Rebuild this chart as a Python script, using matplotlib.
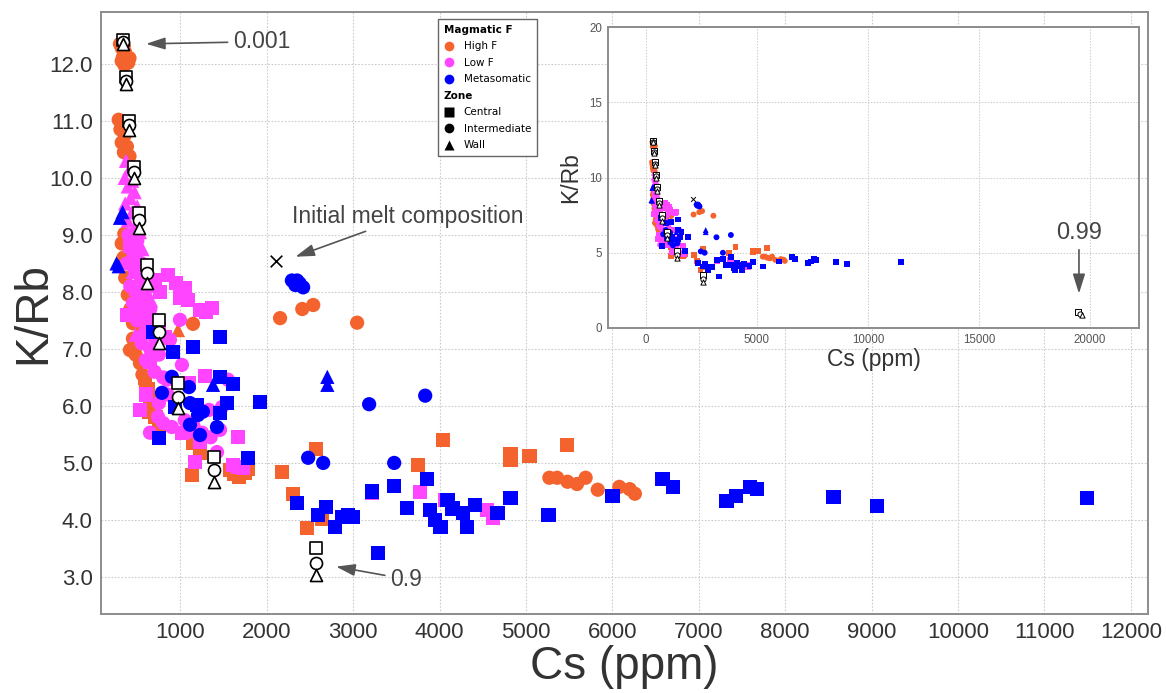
import matplotlib
matplotlib.use("Agg")
import matplotlib.pyplot as plt
from matplotlib.lines import Line2D
from matplotlib.ticker import FormatStrFormatter

plt.rcParams['font.family'] = ['Liberation Sans', 'DejaVu Sans']

# ---- data: Cs (ppm) vs K/Rb ----
# High F (orange)
hf_circ_x = [300, 320, 345, 360, 335, 375, 395, 350, 410, 320, 285, 330, 305, 355, 320, 380, 345, 410,
             350, 320, 340, 360, 390, 420, 450, 531, 612, 450, 415, 480, 531, 560, 600, 650, 700,
             1145, 2153, 2410, 2537, 3045, 5270, 5360, 5480, 5590, 5690, 5830, 6080, 6200, 6260]
hf_circ_y = [12.35, 12.28, 12.32, 12.2, 12.12, 12.08, 12.02, 11.98, 12.1, 12.05, 11.02, 10.95, 10.85, 10.75,
             10.62, 10.55, 10.45, 10.38, 9.02, 8.85, 8.6, 8.25, 7.95, 7.7, 7.45, 7.39, 7.68, 7.18, 6.98,
             6.9, 6.75, 6.55, 6.35, 6.15, 6.0, 7.44, 7.54, 7.7, 7.77, 7.46, 4.74, 4.74, 4.67, 4.63, 4.74,
             4.53, 4.58, 4.54, 4.46]
hf_sq_x = [590, 620, 650, 680, 710, 750, 640, 1145, 1226, 1133, 1573, 1620, 1680, 1740, 1785, 2176, 2304,
           2466, 2640, 2570, 3752, 4042, 4820, 4820, 5040, 5470]
hf_sq_y = [6.5, 6.3, 6.1, 5.95, 5.8, 5.65, 5.9, 5.35, 5.18, 4.79, 4.88, 4.8, 4.76, 4.82, 4.9, 4.84, 4.46,
           3.86, 4.02, 5.25, 4.96, 5.4, 5.15, 5.05, 5.12, 5.32]
hf_tri_x = [971, 560, 480]
hf_tri_y = [7.33, 8.0, 7.1]

# Low F (magenta)
lf_circ_x = [400, 450, 500, 380, 470, 550, 420, 500, 600, 450, 550, 650, 500, 600, 700, 550, 650, 750,
             600, 700, 800, 850, 750, 994, 878, 1017, 844, 1550, 1330, 1480, 740, 800, 900, 1050, 1150,
             1250, 647, 1423, 1458, 1350, 1100]
lf_circ_y = [9.0, 8.7, 8.9, 8.5, 8.4, 8.5, 8.1, 8.0, 7.9, 7.8, 7.7, 7.7, 7.5, 7.3, 7.2, 7.1, 7.0, 6.9,
             6.8, 6.6, 6.5, 6.2, 6.05, 7.51, 7.16, 6.72, 6.46, 6.46, 5.93, 5.98, 5.81, 5.7, 5.63, 5.75,
             5.65, 5.53, 5.53, 5.19, 5.58, 5.45, 5.55]
lf_sq_x = [420, 480, 540, 600, 700, 760, 860, 950, 1051, 1000, 1087, 1226, 1300, 1365, 380, 660, 750,
           820, 647, 1284, 531, 600, 1017, 1226, 1168, 1608, 1665, 1724, 1666, 3220, 3775, 4065, 4550,
           4620, 1100]
lf_sq_y = [8.8, 8.6, 8.3, 8.1, 8.2, 8.0, 8.3, 8.15, 8.07, 7.9, 7.86, 7.68, 7.65, 7.72, 7.6, 7.5, 7.35,
           7.2, 6.77, 6.53, 5.93, 6.2, 5.53, 5.37, 5.02, 4.96, 4.93, 4.91, 5.46, 4.47, 4.49, 4.35, 4.18,
           4.04, 6.4]
lf_tri_x = [370, 410, 355, 440, 390, 470, 420, 360, 500, 440, 390, 480, 530, 410, 470, 560, 430, 510,
            600, 450, 540, 640, 480, 580, 660, 520, 620, 700, 560, 480]
lf_tri_y = [10.3, 10.15, 10.0, 9.95, 9.85, 9.75, 9.65, 9.55, 9.5, 9.4, 9.25, 9.15, 9.05, 8.95, 8.85,
            8.75, 8.65, 8.55, 8.45, 8.35, 8.25, 8.15, 8.05, 7.95, 7.85, 7.75, 7.6, 7.5, 7.35, 7.25]

# Metasomatic (blue)
mt_circ_x = [2290, 2330, 2380, 2420, 2350, 901, 1098, 786, 1110, 1203, 1260, 1110, 1226, 1423, 3184,
             3833, 2478, 2652, 3474]
mt_circ_y = [8.2, 8.12, 8.15, 8.08, 8.2, 6.51, 6.33, 6.23, 6.05, 5.84, 5.9, 5.67, 5.49, 5.63, 6.03,
             6.18, 5.09, 5.0, 5.0]
mt_sq_x = [681, 1458, 1145, 913, 1458, 1608, 1921, 936, 1190, 1539, 1458, 751, 1785, 2350, 2594, 2686,
           2790, 2870, 2940, 3000, 3288, 3856, 3474, 3220, 3625, 3890, 3950, 4010, 4090, 4150, 4270,
           4320, 4410, 4670, 4820, 5260, 6000, 6580, 6700, 7320, 7430, 7590, 7670, 8560, 9060, 11490]
mt_sq_y = [7.3, 7.21, 7.04, 6.95, 6.51, 6.39, 6.07, 5.98, 6.02, 6.05, 5.88, 5.44, 5.09, 4.3, 4.09, 4.23,
           3.88, 4.05, 4.09, 4.05, 3.42, 4.72, 4.6, 4.5, 4.21, 4.18, 4.0, 3.88, 4.35, 4.2, 4.12, 3.88,
           4.26, 4.12, 4.39, 4.09, 4.42, 4.72, 4.58, 4.33, 4.42, 4.58, 4.54, 4.4, 4.25, 4.39]
mt_tri_x = [330, 300, 260, 285, 1377, 2700, 2700]
mt_tri_y = [9.4, 9.3, 8.5, 8.45, 6.37, 6.51, 6.37]

# crystallisation model (open black symbols), F = 0.001 ... 0.9, 0.99
model_cen_x = [334, 369, 403, 461, 519, 612, 753, 971, 1388, 2570, 19450]
model_cen_y = [12.42, 11.77, 11.0, 10.19, 9.39, 8.47, 7.51, 6.40, 5.11, 3.51, 1.05]
model_int_x = [334, 369, 403, 461, 519, 612, 753, 971, 1388, 2570, 19550]
model_int_y = [12.38, 11.70, 10.93, 10.10, 9.26, 8.33, 7.30, 6.16, 4.88, 3.25, 0.95]
model_wal_x = [334, 369, 403, 461, 519, 612, 753, 971, 1388, 2570, 19650]
model_wal_y = [12.35, 11.65, 10.84, 10.00, 9.12, 8.16, 7.10, 5.96, 4.67, 3.04, 0.85]

melt_x = [2107]
melt_y = [8.54]

C_HIGH = "#f4622e"
C_LOW = "#ff45ff"
C_META = "#0000ff"
GRID = "#cccccc"


def draw_points(a, s, ms_model, lw_model, s_x):
    groups = [
        (hf_circ_x, hf_circ_y, 'o', C_HIGH), (hf_sq_x, hf_sq_y, 's', C_HIGH), (hf_tri_x, hf_tri_y, '^', C_HIGH),
        (lf_circ_x, lf_circ_y, 'o', C_LOW), (lf_sq_x, lf_sq_y, 's', C_LOW), (lf_tri_x, lf_tri_y, '^', C_LOW),
        (mt_circ_x, mt_circ_y, 'o', C_META), (mt_sq_x, mt_sq_y, 's', C_META), (mt_tri_x, mt_tri_y, '^', C_META),
    ]
    for gx, gy, m, c in groups:
        a.scatter(gx, gy, s=s, marker=m, color=c, edgecolors='none', zorder=3)
    for gx, gy, m in [(model_cen_x, model_cen_y, 's'), (model_int_x, model_int_y, 'o'),
                      (model_wal_x, model_wal_y, '^')]:
        a.scatter(gx, gy, s=ms_model, marker=m, facecolors='white', edgecolors='black',
                  linewidths=lw_model, zorder=4)
    a.scatter(melt_x, melt_y, s=s_x, marker='x', color='black', linewidths=lw_model, zorder=4)


fig = plt.figure(figsize=(11.66, 6.93), dpi=100)
ax = fig.add_axes([0.0866, 0.114, 0.898, 0.8687])
draw_points(ax, 105, 75, 1.2, 70)

ax.set_xlim(80, 12200)
ax.set_ylim(2.35, 12.91)
ax.set_xticks(range(1000, 12001, 1000))
ax.set_yticks([3, 4, 5, 6, 7, 8, 9, 10, 11, 12])
ax.yaxis.set_major_formatter(FormatStrFormatter('%.1f'))
ax.tick_params(length=0, labelsize=16, labelcolor='#333333', pad=6)
ax.grid(True, color=GRID, linestyle=(0, (1.5, 1.5)), linewidth=0.8)
ax.set_axisbelow(True)
for sp in ax.spines.values():
    sp.set_color('#8c8c8c')
    sp.set_linewidth(1.4)
ax.set_xlabel('Cs (ppm)', fontsize=33, color='#333333')
ax.set_ylabel('K/Rb', fontsize=33, color='#333333')
ax.xaxis.set_label_coords(0.5, -0.052)
ax.yaxis.set_label_coords(-0.044, 0.5)

arrow = dict(arrowstyle='-|>,head_length=0.7,head_width=0.22', color='#555555', lw=1.2,
             shrinkA=2, shrinkB=2)
ax.annotate('0.001', xy=(570, 12.35), xytext=(1610, 12.39), fontsize=16.5, color='#444444',
            ha='left', va='center', arrowprops=arrow)
ax.annotate('0.9', xy=(2770, 3.19), xytext=(3430, 2.96), fontsize=16.5, color='#444444',
            ha='left', va='center', arrowprops=arrow)
ax.annotate('Initial melt composition', xy=(2300, 8.6), xytext=(3630, 9.33), fontsize=16.5,
            color='#444444', ha='center', va='center', arrowprops=arrow)

hs = [
    Line2D([], [], ls='none', marker='o', ms=7, mfc=C_HIGH, mec='none', label='High F'),
    Line2D([], [], ls='none', marker='o', ms=7, mfc=C_LOW, mec='none', label='Low F'),
    Line2D([], [], ls='none', marker='o', ms=7, mfc=C_META, mec='none', label='Metasomatic'),
    Line2D([], [], ls='none', label='Zone'),
    Line2D([], [], ls='none', marker='s', ms=6.5, mfc='black', mec='none', label='Central'),
    Line2D([], [], ls='none', marker='o', ms=7, mfc='black', mec='none', label='Intermediate'),
    Line2D([], [], ls='none', marker='^', ms=7, mfc='black', mec='none', label='Wall'),
]
leg = ax.legend(handles=hs, title='Magmatic F', loc='upper left', bbox_to_anchor=(0.322, 0.988),
                borderaxespad=0, fancybox=False, framealpha=1, edgecolor='#666666',
                prop={'family': 'DejaVu Sans', 'size': 7.5},
                title_fontproperties={'family': 'DejaVu Sans', 'size': 7.5, 'weight': 'bold'},
                alignment='left', handlelength=1.0, handletextpad=0.9, labelspacing=0.62,
                borderpad=0.55)
leg.get_frame().set_linewidth(1.0)
zt = leg.get_texts()[3]
zt.set_fontweight('bold')
zt.set_x(-20)

# inset with the full Cs range
axi = fig.add_axes([0.5214, 0.5267, 0.4554, 0.4343])
draw_points(axi, 18, 14, 0.7, 12)
axi.set_xlim(-1700, 22200)
axi.set_ylim(0, 20)
axi.set_xticks([0, 5000, 10000, 15000, 20000])
axi.set_yticks([0, 5, 10, 15, 20])
axi.tick_params(length=0, labelsize=8.3, labelcolor='#555555', pad=4)
axi.grid(True, color=GRID, linestyle=(0, (1.5, 1.5)), linewidth=0.7)
axi.set_axisbelow(True)
for sp in axi.spines.values():
    sp.set_color('#8c8c8c')
    sp.set_linewidth(1.4)
axi.set_xlabel('Cs (ppm)', fontsize=16.5, color='#333333')
axi.set_ylabel('K/Rb', fontsize=16.5, color='#333333')
axi.xaxis.set_label_coords(0.5, -0.068)
axi.yaxis.set_label_coords(-0.048, 0.5)
axi.annotate('0.99', xy=(19500, 2.1), xytext=(19500, 6.3), fontsize=17, color='#444444',
             ha='center', va='center', arrowprops=arrow)

fig.savefig('out.png', dpi=100)
